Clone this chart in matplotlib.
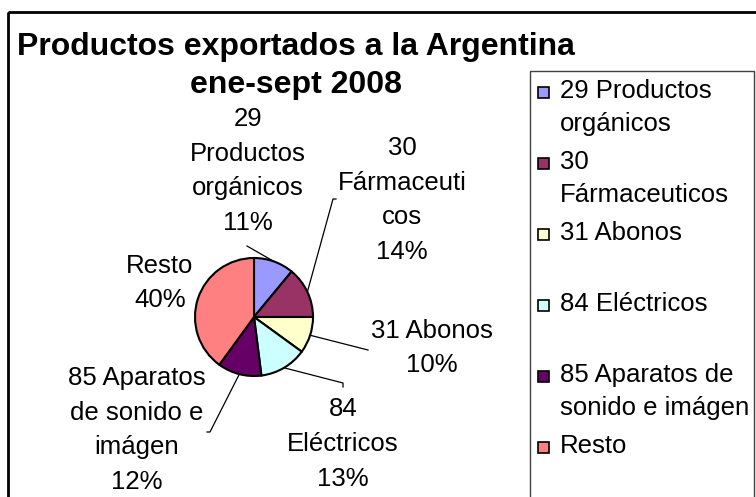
import matplotlib.pyplot as plt
from matplotlib.patches import Rectangle
import numpy as np

plt.rcParams['font.family'] = ['Liberation Sans', 'DejaVu Sans']

# datos
categorias = ["29 Productos orgánicos", "30 Fármaceuticos", "31 Abonos",
              "84 Eléctricos", "85 Aparatos de sonido e imágen", "Resto"]
porcentajes = [11, 14, 10, 13, 12, 40]
etiquetas_pie = ["29\nProductos\norgánicos", "30\nFármaceuti\ncos", "31 Abonos",
                 "84\nEléctricos", "85 Aparatos\nde sonido e\nimágen", "Resto"]
etiquetas_leyenda = ["29 Productos\norgánicos", "30\nFármaceuticos", "31 Abonos",
                     "84 Eléctricos", "85 Aparatos de\nsonido e imágen", "Resto"]
colores = ["#9999FF", "#993366", "#FFFFCC", "#CCFFFF", "#660066", "#FF8080"]

W, H = 756, 497
fig = plt.figure(figsize=(W / 100, H / 100), dpi=100)

# capa en pixeles para marco, titulo y leyenda
bg = fig.add_axes([0, 0, 1, 1])
bg.set_xlim(0, W)
bg.set_ylim(H, 0)
bg.axis('off')
bg.add_patch(Rectangle((8, 12), W + 10, H + 10, fill=False, lw=2, ec='black'))

bg.text(296, 47, "Productos exportados a la Argentina", ha='center', va='center',
        fontsize=23, fontweight='bold')
bg.text(296, 85, "ene-sept 2008", ha='center', va='center',
        fontsize=23, fontweight='bold')

# leyenda
bg.add_patch(Rectangle((530, 71), 224, H, fill=False, lw=1, ec='#404040'))
for i, (lab, col) in enumerate(zip(etiquetas_leyenda, colores)):
    y = 92 + 71 * i
    bg.add_patch(Rectangle((538, y - 5), 11, 11, fc=col, ec='black', lw=1.2))
    bg.text(560, y - 13, lab, ha='left', va='top', fontsize=18.5, linespacing=1.45)

# pastel
cx, cy, r = 254, 317, 59
ax = fig.add_axes([(cx - r) / W, (H - cy - r) / H, 2 * r / W, 2 * r / H])
wedges, _ = ax.pie(porcentajes, colors=colores, startangle=90, counterclock=False,
                   wedgeprops=dict(edgecolor='black', linewidth=1.5, clip_on=False))
ax.set_xlim(-1, 1)
ax.set_ylim(-1, 1)
ax.set_aspect('auto')
ax.axis('off')

def px(x, y):
    return (x - cx) / r, (cy - y) / r

# posicion de las etiquetas (pixeles) y extremo de la linea guia
pos_etiquetas = [(248, 171), (402, 200), (432, 348), (343, 444), (137, 430), (160, 283)]
guias = [[(247, 246)], [(336, 199), (333, 199)], [(368, 350)],
         [(343, 387), (343, 383)], [(207, 432), (210, 432)], None]

for w, lab, p, (lx, ly), g in zip(wedges, etiquetas_pie, porcentajes, pos_etiquetas, guias):
    ax.text(*px(lx, ly), f"{lab}\n{p}%", ha='center', va='center',
            multialignment='center', fontsize=18.5, linespacing=1.57, clip_on=False)
    if g is None:
        continue
    ang = np.deg2rad((w.theta1 + w.theta2) / 2)
    pts = [px(*q) for q in g] + [(np.cos(ang), np.sin(ang))]
    xs, ys = zip(*pts)
    ax.plot(xs, ys, color='black', lw=0.9, clip_on=False)

fig.savefig("out.png", dpi=100)
